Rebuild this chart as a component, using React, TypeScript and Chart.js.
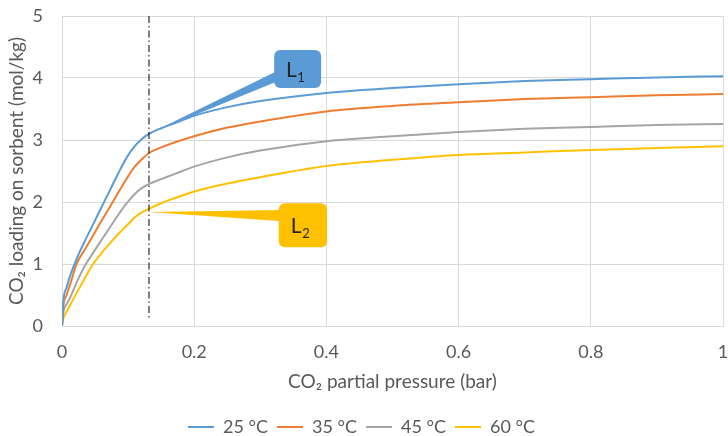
import React, { useEffect, useRef } from 'react';
import { Chart, registerables } from 'chart.js';

Chart.register(...registerables);

// ---------- data ----------
const SERIES_NAMES = ['25 °C', '35 °C', '45 °C', '60 °C'];
const SERIES_COLORS = ['#5B9BD5', '#ED7D31', '#A5A5A5', '#FFC000'];

const PRESSURE = [0, 0.002, 0.007, 0.012, 0.022, 0.035, 0.047, 0.06, 0.073, 0.085, 0.098, 0.11, 0.12, 0.1316, 0.15, 0.17, 0.2, 0.25, 0.3, 0.4, 0.5, 0.6, 0.7, 0.8, 0.9, 1.0];
const LOAD_25 = [0, 0.4, 0.62, 0.8, 1.08, 1.38, 1.64, 1.92, 2.2, 2.46, 2.72, 2.9, 3.01, 3.1, 3.19, 3.27, 3.39, 3.53, 3.63, 3.76, 3.84, 3.9, 3.95, 3.98, 4.01, 4.03];
const LOAD_35 = [0, 0.32, 0.5, 0.66, 1.0, 1.24, 1.46, 1.7, 1.93, 2.15, 2.38, 2.57, 2.68, 2.79, 2.88, 2.96, 3.06, 3.2, 3.3, 3.46, 3.55, 3.61, 3.66, 3.69, 3.72, 3.74];
const LOAD_45 = [0, 0.22, 0.35, 0.45, 0.7, 0.98, 1.18, 1.39, 1.6, 1.79, 1.98, 2.13, 2.22, 2.29, 2.37, 2.45, 2.57, 2.72, 2.83, 2.98, 3.06, 3.13, 3.18, 3.21, 3.24, 3.26];
const LOAD_60 = [0, 0.12, 0.23, 0.33, 0.53, 0.78, 1.0, 1.18, 1.34, 1.48, 1.62, 1.75, 1.83, 1.89, 1.98, 2.06, 2.17, 2.3, 2.4, 2.58, 2.68, 2.76, 2.8, 2.84, 2.87, 2.9];
const SERIES_VALUES = [LOAD_25, LOAD_35, LOAD_45, LOAD_60];

const X_TICKS = [0, 0.2, 0.4, 0.6, 0.8, 1];
const Y_TICKS = [0, 1, 2, 3, 4, 5];

const X_TITLE = 'CO₂ partial pressure (bar)';
const Y_TITLE = 'CO₂ loading on sorbent (mol/kg)';

// vertical dash-dot marker line
const MARKER_X = [0.1316, 0.1316];
const MARKER_Y = [5, 0.1];

// callouts
const CALLOUT_MAIN = ['L', 'L'];
const CALLOUT_SUB = ['1', '2'];
const CALLOUT_COLORS = ['#5B9BD5', '#FFC000'];
const CALLOUT_TIP_X = [0.1316, 0.1316];
const CALLOUT_TIP_Y = [3.1, 1.84];
const CALLOUT_BOX_X0 = [0.321, 0.328];
const CALLOUT_BOX_X1 = [0.392, 0.401];
const CALLOUT_BOX_Y0 = [4.45, 1.98];
const CALLOUT_BOX_Y1 = [3.84, 1.27];
const CALLOUT_BASE_Y0 = [4.12, 1.87];
const CALLOUT_BASE_Y1 = [3.95, 1.69];

const FONT = 'Lato, "Noto Sans", "DejaVu Sans", sans-serif';
const TEXT = '#595959';
const GRID = '#D9D9D9';

const calloutPlugin = {
  id: 'callouts',
  afterDatasetsDraw(chart: any) {
    const { ctx } = chart;
    const xs = chart.scales.x;
    const ys = chart.scales.y;
    CALLOUT_MAIN.forEach((main, i) => {
      const tx = xs.getPixelForValue(CALLOUT_TIP_X[i]);
      const ty = ys.getPixelForValue(CALLOUT_TIP_Y[i]);
      const bx0 = xs.getPixelForValue(CALLOUT_BOX_X0[i]);
      const bx1 = xs.getPixelForValue(CALLOUT_BOX_X1[i]);
      const by0 = ys.getPixelForValue(CALLOUT_BOX_Y0[i]);
      const by1 = ys.getPixelForValue(CALLOUT_BOX_Y1[i]);
      const wy0 = ys.getPixelForValue(CALLOUT_BASE_Y0[i]);
      const wy1 = ys.getPixelForValue(CALLOUT_BASE_Y1[i]);
      ctx.save();
      ctx.fillStyle = CALLOUT_COLORS[i];
      ctx.beginPath();
      ctx.moveTo(tx, ty);
      ctx.lineTo(bx0 + 4, wy0);
      ctx.lineTo(bx0 + 4, wy1);
      ctx.closePath();
      ctx.fill();
      ctx.beginPath();
      ctx.roundRect(bx0, by0, bx1 - bx0, by1 - by0, 6);
      ctx.fill();
      const cy = (by0 + by1) / 2;
      const lx = bx0 + (bx1 - bx0) * 0.25;
      ctx.fillStyle = '#262626';
      ctx.textBaseline = 'alphabetic';
      ctx.textAlign = 'left';
      ctx.font = `21px ${FONT}`;
      ctx.fillText(main, lx, cy + 8);
      const w = ctx.measureText(main).width;
      ctx.font = `13px ${FONT}`;
      ctx.fillText(CALLOUT_SUB[i], lx + w + 0.5, cy + 12.5);
      ctx.restore();
    });
  },
};

const zeroPad = (s: any) => {
  s.paddingTop = 0;
  s.paddingBottom = 0;
  s.paddingLeft = 0;
  s.paddingRight = 0;
};

export default function App() {
  const ref = useRef<HTMLCanvasElement | null>(null);

  useEffect(() => {
    if (!ref.current) return;
    const datasets: any[] = SERIES_NAMES.map((name, i) => ({
      label: name,
      data: PRESSURE.map((p, j) => ({ x: p, y: SERIES_VALUES[i][j] })),
      borderColor: SERIES_COLORS[i],
      backgroundColor: SERIES_COLORS[i],
      borderWidth: 2,
      pointRadius: 0,
      cubicInterpolationMode: 'monotone',
      fill: false,
      order: 1,
    }));
    datasets.push({
      label: 'marker',
      data: MARKER_X.map((xv, j) => ({ x: xv, y: MARKER_Y[j] })),
      borderColor: '#000000',
      borderWidth: 1,
      borderDash: [7, 3, 1.5, 3],
      pointRadius: 0,
      fill: false,
      order: 0,
    });

    const chart = new Chart(ref.current, {
      type: 'line',
      data: { datasets },
      plugins: [calloutPlugin],
      options: {
        responsive: false,
        animation: false,
        layout: { padding: { top: 16, right: 5, left: 0, bottom: 0 } },
        font: { family: FONT },
        scales: {
          x: {
            type: 'linear',
            min: 0,
            max: 1,
            afterBuildTicks: (s: any) => { s.ticks = X_TICKS.map((v) => ({ value: v })); },
            afterFit: (s: any) => { s.height = 83; zeroPad(s); },
            grid: { color: GRID, lineWidth: 1, drawTicks: false },
            border: { color: GRID, width: 1 },
            ticks: {
              color: TEXT,
              font: { family: FONT, size: 18 },
              padding: 15,
              maxRotation: 0,
              callback: (v: any) => String(+Number(v).toFixed(1)),
            },
            title: {
              display: true,
              text: X_TITLE,
              color: TEXT,
              font: { family: FONT, size: 19 },
              padding: { top: 0, bottom: 16 },
            },
          },
          y: {
            type: 'linear',
            min: 0,
            max: 5,
            afterBuildTicks: (s: any) => { s.ticks = Y_TICKS.map((v) => ({ value: v })); },
            afterFit: (s: any) => { s.width = 62; zeroPad(s); },
            grid: { color: GRID, lineWidth: 1, drawTicks: false },
            border: { color: GRID, width: 1 },
            ticks: {
              color: TEXT,
              font: { family: FONT, size: 18 },
              padding: 19,
              callback: (v: any) => String(v),
            },
            title: {
              display: true,
              text: Y_TITLE,
              color: TEXT,
              font: { family: FONT, size: 19 },
              padding: { top: 5.6, bottom: 0 },
            },
          },
        },
        plugins: {
          tooltip: { enabled: false },
          legend: {
            position: 'bottom',
            maxHeight: 27,
            labels: {
              color: TEXT,
              font: { family: FONT, size: 18 },
              boxWidth: 26,
              boxHeight: 2,
              padding: 9,
              generateLabels: (c: any) =>
                Chart.defaults.plugins.legend.labels
                  .generateLabels(c)
                  .filter((l: any) => l.datasetIndex < SERIES_NAMES.length)
                  .map((l: any) => ({ ...l, lineWidth: 0, fillStyle: SERIES_COLORS[l.datasetIndex] })),
            },
          },
        },
      } as any,
    });
    return () => chart.destroy();
  }, []);

  return (
    <div style={{ position: 'absolute', left: 0, top: 0, width: 728, height: 436, background: '#ffffff' }}>
      <canvas ref={ref} width={728} height={436} style={{ display: 'block' }} />
    </div>
  );
}
